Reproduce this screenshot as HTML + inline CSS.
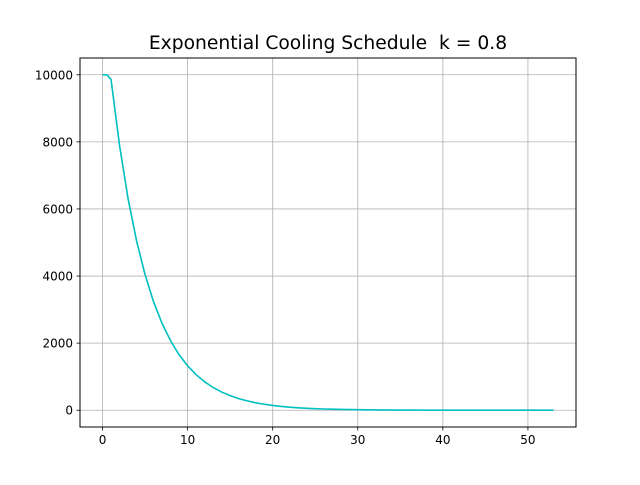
<!DOCTYPE html>
<html><head><meta charset="utf-8"><style>
body{margin:0;background:#fff;}
svg text{font-family:"DejaVu Sans","Liberation Sans",sans-serif;fill:#000;}
</style></head><body>
<svg id="chart" width="640" height="480" xmlns="http://www.w3.org/2000/svg">
<rect width="640" height="480" fill="#fff"/>
<text x="328" y="49" font-size="18.7" text-anchor="middle">Exponential Cooling Schedule&#160; k = 0.8</text>
<g id="grid"></g>
<g id="ticks"></g>
<path id="line" fill="none" stroke="#00bfbf" stroke-width="1.6"/>
<rect x="80" y="58" width="496" height="369" fill="none" stroke="#000" stroke-width="1"/>
</svg>
<script>
const xValues = [0,0.5,1,2,3,4,5,6,7,8,9,10,11,12,13,14,15,16,17,18,19,20,21,22,23,24,25,26,27,28,29,30,31,32,33,34,35,36,37,38,39,40,41,42,43,44,45,46,47,48,49,50,51,52,53];
const yValues = [10000,10000,9860,7888,6310,5048,4039,3231,2585,2068,1654,1323,1059,847,678,542,434,347,278,222,178,142,114,91,73,58,47,37,30,24,19,15,12,10,8,6,5,4,3,2.5,2,1.6,1.3,1,0.8,0.7,0.5,0.4,0.3,0.3,0.2,0.2,0.1,0.1,0.1];
const xTicks = [0,10,20,30,40,50];
const yTicks = [0,2000,4000,6000,8000,10000];
const L=80,R=576,T=58,B=427, xmin=-2.65,xmax=55.65,ymin=-500,ymax=10500;
const sx=v=>L+(v-xmin)/(xmax-xmin)*(R-L);
const sy=v=>B-(v-ymin)/(ymax-ymin)*(B-T);
const NS="http://www.w3.org/2000/svg";
const grid=document.getElementById('grid'), ticks=document.getElementById('ticks');
function mk(tag,attrs,parent){const e=document.createElementNS(NS,tag);for(const k in attrs)e.setAttribute(k,attrs[k]);parent.appendChild(e);return e;}
xTicks.forEach(v=>{const x=sx(v);
 const g=mk('line',{x1:x,x2:x,y1:T,y2:B,stroke:'#b0b0b0','stroke-width':0.8},grid);
 
 
 const t=mk('line',{x1:x,x2:x,y1:B,y2:B+3.5,stroke:'#000','stroke-width':0.8},ticks);
 
 
 const l=mk('text',{x:x,y:B+17,'font-size':12,'text-anchor':'middle'},ticks);l.textContent=v;
 
 
});
yTicks.forEach(v=>{const y=sy(v);
 const g=mk('line',{x1:L,x2:R,y1:y,y2:y,stroke:'#b0b0b0','stroke-width':0.8},grid);
 
 
 const t=mk('line',{x1:L-3.5,x2:L,y1:y,y2:y,stroke:'#000','stroke-width':0.8},ticks);
 
 
 const l=mk('text',{x:L-7,y:y+4.5,'font-size':12,'text-anchor':'end'},ticks);l.textContent=v;
 
 
});
document.getElementById('line').setAttribute('d',xValues.map((x,i)=>(i?'L':'M')+sx(x).toFixed(2)+','+sy(yValues[i]).toFixed(2)).join(''));
</script>
</body></html>
